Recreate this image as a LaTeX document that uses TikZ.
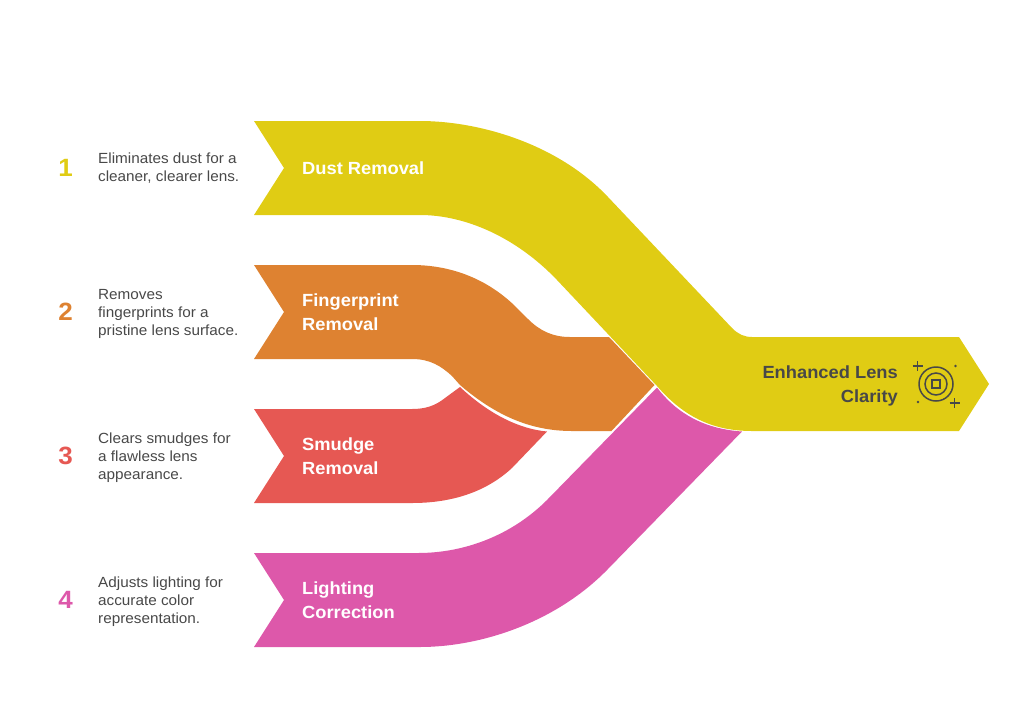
\documentclass[tikz,border=0pt]{standalone}
\usepackage{fontspec}
\setmainfont[FakeStretch=1.04]{Liberation Sans}
\definecolor{cyel}{HTML}{E0CC14}
\definecolor{cora}{HTML}{DE8231}
\definecolor{cred}{HTML}{E65853}
\definecolor{cpin}{HTML}{DD58AA}
\definecolor{cink}{HTML}{484848}
\begin{document}
\begin{tikzpicture}[x=1pt,y=-1pt,
  lbl/.style={font=\fontsize{17.6}{24}\selectfont\bfseries,text=white,align=left,anchor=west,inner sep=0pt},
  desc/.style={font=\fontsize{14.7}{18}\selectfont,text=cink,align=left,anchor=west,inner sep=0pt},
  num/.style={font=\fontsize{25}{25}\selectfont\bfseries,anchor=center,inner sep=0pt},
  ico/.style={draw=cink,line width=1.5pt,fill=none}]
\useasboundingbox (0,0) rectangle (1020,721);
\fill[cyel] (254,121) -- (420,121) .. controls (478,121) and (557,143) .. (608,197)
  -- (732,328) .. controls (738,334) and (744,337) .. (752,337)
  -- (959,337) -- (989,384) -- (959,431) -- (752,431)
  .. controls (712,431) and (683,416) .. (657,386)
  -- (557,280) .. controls (516,237) and (465,215) .. (420,215)
  -- (254,215) -- (284,168) -- cycle;
\fill[cora] (254,265) -- (412,265) .. controls (450,265) and (486,278) .. (515,306)
  -- (528,319) .. controls (540,331) and (553,337) .. (570,337)
  -- (609,337) -- (654.5,385) -- (611.5,431) -- (572,431)
  .. controls (530,431) and (495,415) .. (460,385)
  -- (452,376) .. controls (441,366) and (430,359) .. (412,359)
  -- (254,359) -- (284,312) -- cycle;
\fill[cred] (254,409) -- (412,409) .. controls (425,409) and (435,406) .. (445,398)
  -- (460,387) .. controls (490,415) and (520,429) .. (547,431.5)
  -- (512,468) .. controls (485,493) and (450,503) .. (412,503)
  -- (254,503) -- (284,456) -- cycle;
\fill[cpin] (254,553) -- (418,553) .. controls (465,553) and (512,535) .. (547,500)
  -- (657,387.5) .. controls (678,415) and (706,429) .. (742,431.5)
  -- (607,570) .. controls (555,623) and (480,647) .. (420,647)
  -- (254,647) -- (284,600) -- cycle;
\node[lbl] (t1) at (302,168) {Dust Removal};
\node[lbl] (t2) at (302,312) {Fingerprint\\Removal};
\node[lbl] (t3) at (302,456) {Smudge\\Removal};
\node[lbl] (t4) at (302,600) {Lighting\\Correction};
\node[lbl,text=cink,align=right,anchor=east] (t5) at (898,386) {Enhanced Lens\\Clarity};
\node[num,text=cyel] (n1) at (65.5,168) {1};
\node[num,text=cora] (n2) at (65.5,312) {2};
\node[num,text=cred] (n3) at (65.5,456) {3};
\node[num,text=cpin] (n4) at (65.5,600) {4};
\node[desc] (d1) at (98,168) {Eliminates dust for a\\cleaner, clearer lens.};
\node[desc] (d2) at (98,313.5) {Removes\\fingerprints for a\\pristine lens surface.};
\node[desc] (d3) at (98,457.5) {Clears smudges for\\a flawless lens\\appearance.};
\node[desc] (d4) at (98,601.5) {Adjusts lighting for\\accurate color\\representation.};
\draw[ico] (936,384) circle (17);
\draw[ico] (936,384) circle (11);
\draw[ico] (932,380) rectangle (940,388);
\draw[ico] (912.5,366) -- (922.5,366) (917.5,361) -- (917.5,371);
\draw[ico] (949.5,403) -- (959.5,403) (954.5,398) -- (954.5,408);
\fill[cink] (955.5,366) circle (1.3);
\fill[cink] (918,402) circle (1.3);
\end{tikzpicture}
\end{document}
